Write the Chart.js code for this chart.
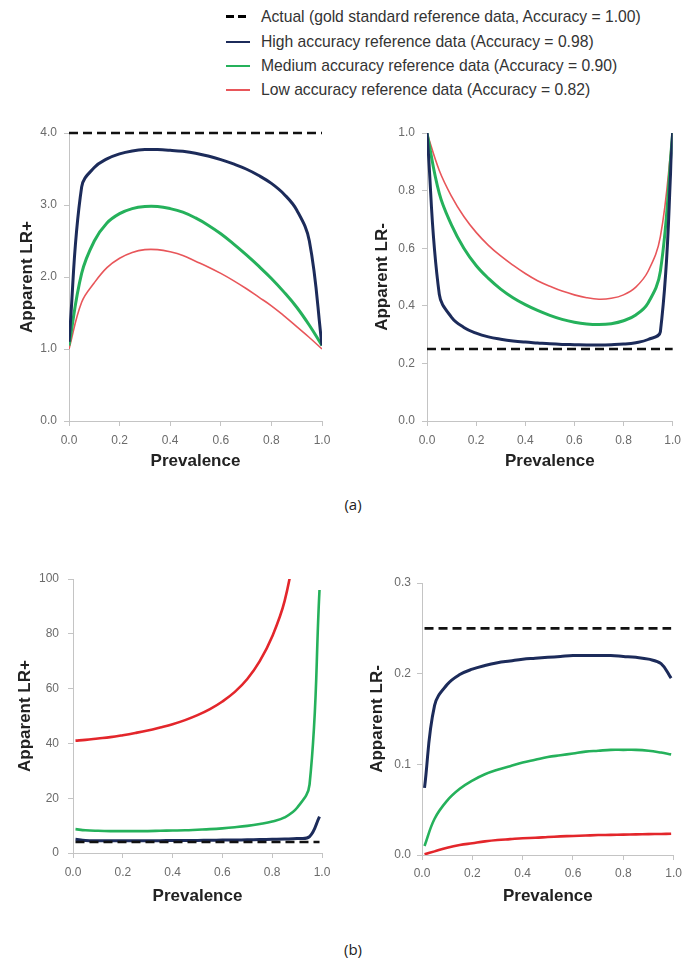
<!DOCTYPE html>
<html><head><meta charset="utf-8">
<script src="https://cdn.jsdelivr.net/npm/chart.js@4.4.1/dist/chart.umd.min.js"></script>
<style>
html,body{margin:0;padding:0;background:#fff;}
body{width:688px;height:960px;position:relative;overflow:hidden;font-family:"Liberation Sans",Arial,sans-serif;}
canvas{position:absolute;}
.row{position:absolute;left:226px;height:20px;line-height:20px;font-size:15.7px;color:#333;white-space:nowrap;}
.row .s{position:absolute;left:0;top:9px;width:24px;height:2px;}
.row .t{position:absolute;left:35px;top:0;}
.cap{position:absolute;width:60px;text-align:center;font-family:"Open Sans","Noto Sans",sans-serif;font-size:15px;color:#222;}
</style></head>
<body>
<div class="row" style="top:7px"><div class="s" style="top:8px;height:3px;background:repeating-linear-gradient(90deg,#000 0 8px,transparent 8px 12px);"></div><div class="t" id="l0"></div></div>
<div class="row" style="top:32px"><div class="s" style="background:#1c2b5a"></div><div class="t" id="l1"></div></div>
<div class="row" style="top:56px"><div class="s" style="background:#25b15b"></div><div class="t" id="l2"></div></div>
<div class="row" style="top:80px"><div class="s" style="background:#e8565a"></div><div class="t" id="l3"></div></div>

<canvas id="c1" width="340" height="370" style="left:0;top:110px"></canvas>
<canvas id="c2" width="348" height="370" style="left:340px;top:110px"></canvas>
<canvas id="c3" width="340" height="360" style="left:0;top:550px"></canvas>
<canvas id="c4" width="348" height="360" style="left:340px;top:550px"></canvas>
<div class="cap" style="left:323px;top:494px">(a)</div>
<div class="cap" style="left:323px;top:939px">(b)</div>

<script>
// ---------- DATA ----------
const seriesNames = [
  "Actual (gold standard reference data, Accuracy = 1.00)",
  "High accuracy reference data (Accuracy = 0.98)",
  "Medium accuracy reference data (Accuracy = 0.90)",
  "Low accuracy reference data (Accuracy = 0.82)"
];
const xTicks = [0, 0.2, 0.4, 0.6, 0.8, 1.0];
const yTicksA1 = [0, 1, 2, 3, 4];
const yTicksA2 = [0, 0.2, 0.4, 0.6, 0.8, 1.0];
const yTicksB1 = [0, 20, 40, 60, 80, 100];
const yTicksB2 = [0, 0.1, 0.2, 0.3];

// (a) prevalence points
const prevA = [0, 0.05, 0.1, 0.15, 0.2, 0.25, 0.3, 0.35, 0.4, 0.45, 0.5, 0.55, 0.6, 0.65, 0.7, 0.75, 0.8, 0.85, 0.9, 0.95, 1.0];
const actualXA = [0, 1.0];
const actualLrPosA = [4.0, 4.0];
const actualLrNegA = [0.25, 0.25];
const lrPosHighA = [1.1, 3.25, 3.52, 3.64, 3.71, 3.75, 3.77, 3.77, 3.76, 3.745, 3.72, 3.68, 3.63, 3.57, 3.5, 3.41, 3.3, 3.15, 2.93, 2.5, 1.05];
const lrPosMedA  = [1.05, 2.05, 2.5, 2.75, 2.88, 2.95, 2.98, 2.98, 2.95, 2.9, 2.82, 2.72, 2.6, 2.46, 2.31, 2.15, 1.98, 1.79, 1.58, 1.33, 1.05];
const lrPosLowA  = [1.0, 1.65, 1.92, 2.13, 2.26, 2.34, 2.38, 2.38, 2.35, 2.3, 2.22, 2.14, 2.05, 1.95, 1.84, 1.72, 1.6, 1.46, 1.31, 1.16, 1.0];
const lrNegHighA = [1.0, 0.44, 0.36, 0.325, 0.305, 0.292, 0.284, 0.278, 0.274, 0.271, 0.268, 0.266, 0.265, 0.264, 0.264, 0.265, 0.267, 0.272, 0.283, 0.31, 1.0];
const lrNegMedA  = [1.0, 0.79, 0.68, 0.6, 0.54, 0.495, 0.458, 0.428, 0.404, 0.384, 0.367, 0.353, 0.343, 0.337, 0.335, 0.338, 0.348, 0.368, 0.41, 0.52, 1.0];
const lrNegLowA  = [1.0, 0.87, 0.78, 0.71, 0.655, 0.61, 0.573, 0.541, 0.512, 0.487, 0.468, 0.451, 0.438, 0.428, 0.423, 0.426, 0.438, 0.465, 0.52, 0.64, 1.0];

// (b) prevalence points
const prevB = [0.01, 0.05, 0.1, 0.15, 0.2, 0.25, 0.3, 0.35, 0.4, 0.45, 0.5, 0.55, 0.6, 0.65, 0.7, 0.75, 0.8, 0.85, 0.9, 0.95, 0.99];
const actualXB = [0.01, 0.99];
const actualLrPosB = [4.0, 4.0];
const actualLrNegB = [0.25, 0.25];
const lrPosHighB = [5.0, 4.6, 4.5, 4.5, 4.5, 4.5, 4.5, 4.5, 4.55, 4.6, 4.6, 4.65, 4.7, 4.75, 4.8, 4.9, 5.0, 5.1, 5.3, 6.0, 13.3];
const lrPosMedB  = [8.7, 8.3, 8.1, 8.0, 8.0, 8.0, 8.0, 8.1, 8.2, 8.3, 8.5, 8.7, 9.0, 9.4, 9.9, 10.6, 11.5, 13.0, 16.5, 25, 96];
const lrPosLowB  = [41, 41.3, 41.8, 42.3, 43, 43.8, 44.7, 45.8, 47, 48.5, 50.3, 52.5, 55.3, 58.8, 63.5, 70, 79, 92, 115, null, null];
const lrNegHighB = [0.074, 0.165, 0.188, 0.199, 0.205, 0.209, 0.212, 0.214, 0.216, 0.217, 0.218, 0.219, 0.22, 0.22, 0.22, 0.22, 0.219, 0.218, 0.216, 0.211, 0.195];
const lrNegMedB  = [0.01, 0.04, 0.06, 0.073, 0.082, 0.089, 0.094, 0.098, 0.102, 0.105, 0.108, 0.11, 0.112, 0.114, 0.115, 0.116, 0.116, 0.116, 0.115, 0.113, 0.111];
const lrNegLowB  = [0.0007, 0.004, 0.008, 0.011, 0.013, 0.015, 0.0165, 0.0175, 0.0185, 0.019, 0.0198, 0.0205, 0.021, 0.0215, 0.022, 0.0222, 0.0225, 0.0228, 0.023, 0.0232, 0.0235];

// ---------- STYLE ----------
const NAVY = '#1c2b5a', GREEN = '#25b15b', RED_A = '#e8565a', RED_B = '#e3262b';
const AXIS = '#c4c4c4', TICKC = '#6b6b6b', TITLEC = '#222';
const FONT = '"Liberation Sans", Arial, sans-serif';

seriesNames.forEach((n, i) => { document.getElementById('l' + i).textContent = n; });

function pts(xs, ys) {
  const out = [];
  for (let i = 0; i < ys.length; i++) if (ys[i] !== null) out.push({x: xs[i], y: ys[i]});
  return out;
}

function build(id, c) {
  return new Chart(document.getElementById(id), {
    type: 'line',
    data: { datasets: [
      {label: seriesNames[0], data: pts(c.ax, c.actual), borderColor: '#111', borderWidth: 2.6, borderDash: [9, 5], pointRadius: 0, tension: 0, clip: false},
      {label: seriesNames[1], data: pts(c.xs, c.high), borderColor: NAVY, borderWidth: 3, pointRadius: 0},
      {label: seriesNames[2], data: pts(c.xs, c.med), borderColor: GREEN, borderWidth: c.gw, pointRadius: 0},
      {label: seriesNames[3], data: pts(c.xs, c.low), borderColor: c.red, borderWidth: c.rw, pointRadius: 0}
    ]},
    options: {
      responsive: false, animation: false, events: [],
      layout: {padding: {left: 0, right: c.padR, top: c.padT, bottom: 0}},
      plugins: {legend: {display: false}, tooltip: {enabled: false}},
      elements: {line: {tension: 0.4, borderCapStyle: 'butt', borderJoinStyle: 'round'}},
      scales: {
        x: {
          type: 'linear', min: 0, max: 1,
          afterBuildTicks: s => { s.ticks = xTicks.map(v => ({value: v})); },
          afterFit: s => { s.height = c.xh; },
          grid: {drawOnChartArea: false, drawTicks: true, tickLength: 5, color: AXIS},
          border: {color: AXIS, width: 1},
          ticks: {callback: v => Number(v).toFixed(1), color: TICKC, font: {family: FONT, size: 12}, padding: c.xtp, maxRotation: 0, autoSkip: false},
          title: {display: true, text: 'Prevalence', color: TITLEC, font: {family: FONT, size: 17, weight: 'bold', lineHeight: 1.2}, padding: {top: 0, bottom: c.xtb}}
        },
        y: {
          min: c.ymin, max: c.ymax,
          afterBuildTicks: s => { s.ticks = c.yt.map(v => ({value: v})); },
          afterFit: s => { s.width = c.yw; },
          grid: {drawOnChartArea: false, drawTicks: true, tickLength: 5, color: AXIS},
          border: {color: AXIS, width: 1},
          ticks: {callback: v => c.yfmt(v), color: TICKC, font: {family: FONT, size: 12}, padding: c.ytp},
          title: {display: true, text: c.ytitle, color: TITLEC, font: {family: FONT, size: 17, weight: 'bold', lineHeight: 1.2}, padding: {top: c.ytt, bottom: 0}}
        }
      }
    }
  });
}

build('c1', {xs: prevA, ax: actualXA, actual: actualLrPosA, high: lrPosHighA, med: lrPosMedA, low: lrPosLowA,
  red: RED_A, rw: 1.6, gw: 3, padR: 18, padT: 23, xh: 59, yw: 69, xtp: 7, xtb: 8, ytp: 7, ytt: 17,
  ymin: 0, ymax: 4, yt: yTicksA1, yfmt: v => Number(v).toFixed(1), ytitle: 'Apparent LR+'});
build('c2', {xs: prevA, ax: actualXA, actual: actualLrNegA, high: lrNegHighA, med: lrNegMedA, low: lrNegLowA,
  red: RED_A, rw: 1.6, gw: 3, padR: 9, padT: 23, xh: 59, yw: 87, xtp: 7, xtb: 8, ytp: 7, ytt: 32,
  ymin: 0, ymax: 1, yt: yTicksA2, yfmt: v => Number(v).toFixed(1), ytitle: 'Apparent LR-'});
build('c3', {xs: prevB, ax: actualXB, actual: actualLrPosB, high: lrPosHighB, med: lrPosMedB, low: lrPosLowB,
  red: RED_B, rw: 2.6, gw: 2.6, padR: 18, padT: 29, xh: 57, yw: 73, xtp: 7, xtb: 3, ytp: 9, ytt: 15,
  ymin: 0, ymax: 100, yt: yTicksB1, yfmt: v => String(Math.round(v)), ytitle: 'Apparent LR+'});
build('c4', {xs: prevB, ax: actualXB, actual: actualLrNegB, high: lrNegHighB, med: lrNegMedB, low: lrNegLowB,
  red: RED_B, rw: 2.6, gw: 2.6, padR: 11, padT: 33, xh: 55, yw: 82, xtp: 6, xtb: 3, ytp: 6, ytt: 27,
  ymin: 0, ymax: 0.3, yt: yTicksB2, yfmt: v => Number(v).toFixed(1), ytitle: 'Apparent LR-'});
</script>
</body></html>
